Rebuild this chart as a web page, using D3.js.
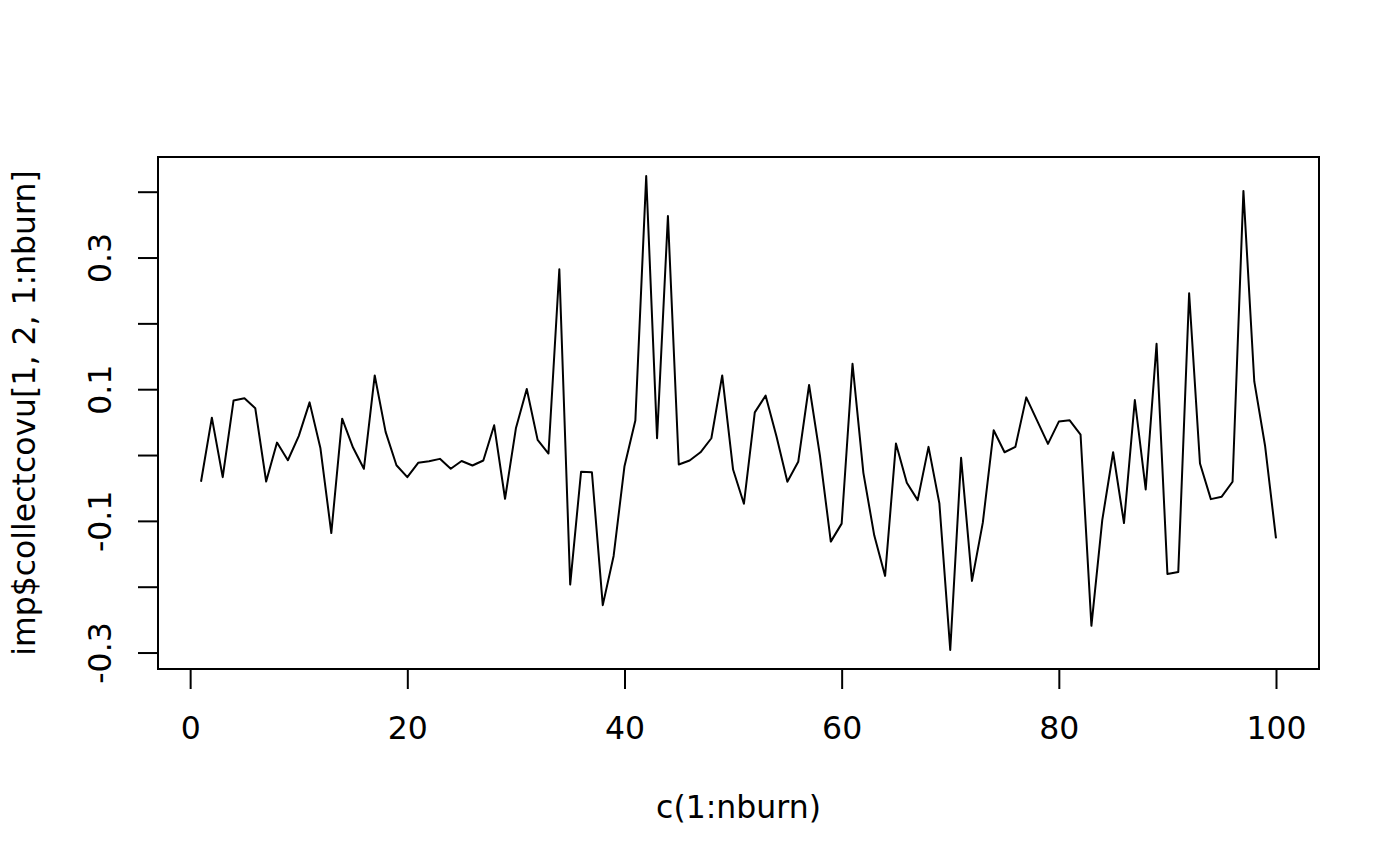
<!DOCTYPE html>
<html>
<head>
<meta charset="utf-8">
<script src="https://cdn.jsdelivr.net/npm/d3@7"></script>
<style>
  html, body { margin: 0; padding: 0; background: #fff; }
  svg text { font-family: "DejaVu Sans", sans-serif; fill: #000; }
</style>
</head>
<body>
<svg id="chart" width="1400" height="866"></svg>
<script>
const iterations = d3.range(1, 101);
const values = [
  -0.0406, 0.0568, -0.0336, 0.0830, 0.0861, 0.0709, -0.0402, 0.0189, -0.0079, 0.0288,
   0.0800, 0.0103, -0.1185, 0.0553, 0.0114, -0.0209, 0.1209, 0.0352, -0.0155, -0.0336,
  -0.0118, -0.0094, -0.0058, -0.0209, -0.0091, -0.0159, -0.0083, 0.0452, -0.0664, 0.0406,
   0.1003, 0.0230, 0.0023, 0.2821, -0.1967, -0.0255, -0.0261, -0.2280, -0.1533, -0.0170,
   0.0523, 0.4239, 0.0255, 0.3629, -0.0144, -0.0083, 0.0042, 0.0255, 0.1209, -0.0220,
  -0.0739, 0.0648, 0.0902, 0.0280, -0.0406, -0.0103, 0.1064, -0.0008, -0.1315, -0.1042,
   0.1386, -0.0270, -0.1220, -0.1836, 0.0174, -0.0421, -0.0685, 0.0124, -0.0735, -0.2962,
  -0.0042, -0.1912, -0.1027, 0.0376, 0.0042, 0.0124, 0.0876, 0.0523, 0.0170, 0.0508,
   0.0527, 0.0311, -0.2594, -0.0988, 0.0042, -0.1033, 0.0836, -0.0523, 0.1689, -0.1806,
  -0.1776, 0.2458, -0.0129, -0.0670, -0.0633, -0.0406, 0.4012, 0.1118, 0.0133, -0.1265
];
const xTicks = [0, 20, 40, 60, 80, 100];
const yTicks = [-0.3, -0.2, -0.1, 0, 0.1, 0.2, 0.3, 0.4];
const yTickLabels = ["-0.3", "", "-0.1", "", "0.1", "", "0.3", ""];
const xLabel = "c(1:nburn)";
const yLabel = "imp$collectcovu[1, 2, 1:nburn]";

const FS = 31.5;
const svg = d3.select("#chart");
const plot = { left: 158, right: 1319, top: 157, bottom: 669 };

function pad(ext) { const r = ext[1] - ext[0]; return [ext[0] - 0.04 * r, ext[1] + 0.04 * r]; }
const x = d3.scaleLinear().domain(pad(d3.extent(iterations))).range([plot.left, plot.right]);
const y = d3.scaleLinear().domain(pad(d3.extent(values))).range([plot.bottom, plot.top]);

const data = iterations.map((d, i) => [d, values[i]]);
svg.append("path")
  .datum(data)
  .attr("fill", "none")
  .attr("stroke", "#000")
  .attr("stroke-width", 2)
  .attr("stroke-linejoin", "round")
  .attr("d", d3.line().x(d => x(d[0])).y(d => y(d[1])));

// box
svg.append("rect")
  .attr("x", plot.left).attr("y", plot.top)
  .attr("width", plot.right - plot.left).attr("height", plot.bottom - plot.top)
  .attr("fill", "none").attr("stroke", "#000").attr("stroke-width", 2);

// x axis
const xAxis = d3.axisBottom(x).tickValues(xTicks).tickSize(20).tickFormat(d3.format("d"));
const gx = svg.append("g").attr("transform", `translate(0,${plot.bottom})`).call(xAxis);
gx.select(".domain").attr("d", `M${x(0)},0H${x(100)}`).attr("stroke-width", 2);
gx.selectAll(".tick line").attr("stroke-width", 2);
gx.selectAll(".tick text")
  .attr("font-size", FS).attr("font-family", "DejaVu Sans")
  .attr("y", 70).attr("dy", null);

// y axis
const yAxis = d3.axisLeft(y).tickValues(yTicks).tickSize(20).tickFormat((d, i) => yTickLabels[i]);
const gy = svg.append("g").attr("transform", `translate(${plot.left},0)`).call(yAxis);
gy.select(".domain").attr("d", `M0,${y(-0.3)}V${y(0.4)}`).attr("stroke-width", 2);
gy.selectAll(".tick line").attr("stroke-width", 2);
gy.selectAll(".tick text")
  .attr("font-size", FS).attr("font-family", "DejaVu Sans")
  .attr("x", null).attr("dy", null)
  .attr("text-anchor", "middle")
  .attr("transform", "translate(-47,0) rotate(-90)");

svg.append("text")
  .attr("x", (plot.left + plot.right) / 2).attr("y", 818)
  .attr("text-anchor", "middle").attr("font-size", FS)
  .text(xLabel);

svg.append("text")
  .attr("transform", `translate(35,${(plot.top + plot.bottom) / 2}) rotate(-90)`)
  .attr("text-anchor", "middle").attr("font-size", FS)
  .text(yLabel);
</script>
</body>
</html>
